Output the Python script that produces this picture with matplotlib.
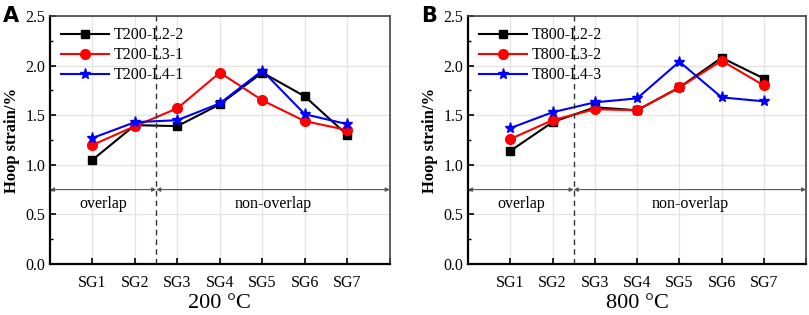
import matplotlib
matplotlib.use("Agg")
import matplotlib.pyplot as plt
from matplotlib.ticker import MultipleLocator

gauges = ["SG1", "SG2", "SG3", "SG4", "SG5", "SG6", "SG7"]

# panel A (200 C)
t200_l2_2 = [1.05, 1.40, 1.39, 1.61, 1.93, 1.69, 1.30]
t200_l3_1 = [1.20, 1.39, 1.57, 1.93, 1.65, 1.44, 1.35]
t200_l4_1 = [1.27, 1.43, 1.45, 1.62, 1.95, 1.51, 1.41]

# panel B (800 C)
t800_l2_2 = [1.14, 1.43, 1.58, 1.55, 1.78, 2.08, 1.87]
t800_l3_2 = [1.26, 1.45, 1.56, 1.55, 1.78, 2.05, 1.80]
t800_l4_3 = [1.37, 1.53, 1.63, 1.67, 2.04, 1.68, 1.64]

plt.rcParams["font.family"] = ["Liberation Serif", "DejaVu Serif"]

fig = plt.figure(figsize=(8.09, 3.15), dpi=100)
axA = fig.add_axes([0.0618, 0.162, 0.420, 0.787])
axB = fig.add_axes([0.5785, 0.162, 0.418, 0.787])

x = list(range(1, len(gauges) + 1))


def draw(ax, series, names, xlabel, letter):
    styles = [("black", "s", 6), ("red", "o", 7), ("blue", "*", 8)]
    for ys, name, (c, m, ms) in zip(series, names, styles):
        ax.plot(x, ys, color=c, marker=m, markersize=ms, lw=1.5, label=name)

    ax.set_xlim(0, 8)
    ax.set_ylim(0, 2.5)
    ax.set_xticks(x + [8])
    ax.set_xticklabels(gauges + [""])
    ax.yaxis.set_major_locator(MultipleLocator(0.5))
    ax.yaxis.set_minor_locator(MultipleLocator(0.25))
    ax.yaxis.set_major_formatter(matplotlib.ticker.FormatStrFormatter("%.1f"))
    ax.tick_params(direction="in", labelsize=11.5, length=4, width=1.2)
    ax.tick_params(which="minor", direction="in", length=2.5, width=1)
    ax.tick_params(axis="x", pad=8)
    ax.grid(True, color="#e3e3e3", lw=0.9)
    ax.set_axisbelow(True)

    for s in ["left", "bottom"]:
        ax.spines[s].set_linewidth(1.6)
        ax.spines[s].set_color("black")
    for s in ["top", "right"]:
        ax.spines[s].set_linewidth(1.2)
        ax.spines[s].set_color("#444444")

    # overlap / non-overlap region markers
    ax.axvline(2.5, color="#333333", ls=(0, (4, 3)), lw=1)
    arrow = dict(arrowstyle="<|-|>", color="#555555", lw=0.8, mutation_scale=6,
                 shrinkA=0, shrinkB=0)
    ax.annotate("", xy=(0, 0.75), xytext=(2.5, 0.75), arrowprops=arrow)
    ax.annotate("", xy=(2.5, 0.75), xytext=(8, 0.75), arrowprops=arrow)
    ax.text(1.25, 0.6, "overlap", ha="center", va="center", fontsize=11.5)
    ax.text(5.25, 0.6, "non-overlap", ha="center", va="center", fontsize=11.5)

    ax.set_ylabel("Hoop strain/%", fontsize=12, fontweight="bold", labelpad=4)
    ax.set_xlabel(xlabel, fontsize=16, labelpad=2)
    ax.legend(loc="upper left", frameon=False, fontsize=11.5, handlelength=3,
              borderaxespad=0.3, labelspacing=0.25, handletextpad=0.3)
    ax.text(-0.14, 1.0, letter, transform=ax.transAxes, fontsize=15,
            fontweight="bold", family="DejaVu Sans", va="center", ha="left")


draw(axA, [t200_l2_2, t200_l3_1, t200_l4_1],
     ["T200-L2-2", "T200-L3-1", "T200-L4-1"], "200 °C", "A")
draw(axB, [t800_l2_2, t800_l3_2, t800_l4_3],
     ["T800-L2-2", "T800-L3-2", "T800-L4-3"], "800 °C", "B")

fig.savefig("out.png", dpi=100)
